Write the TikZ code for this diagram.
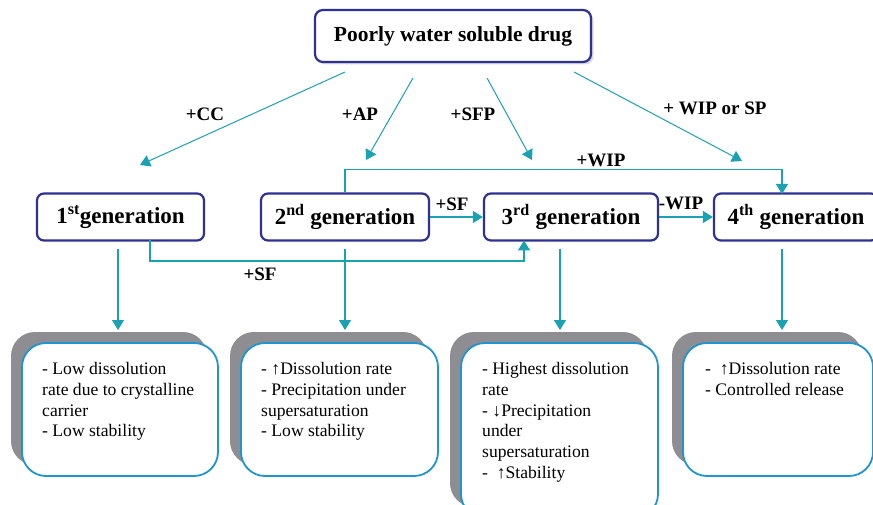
\documentclass[tikz,border=0pt]{standalone}
\usepackage{fontspec}
\setmainfont{Liberation Serif}
\usetikzlibrary{arrows.meta,calc,shadows}
\definecolor{teal1}{HTML}{1BA2B2}
\definecolor{navy1}{HTML}{2E3192}
\definecolor{blue1}{HTML}{1E95D3}
\definecolor{shadow1}{HTML}{8D8D92}
\begin{document}
\begin{tikzpicture}[x=1pt,y=-1pt,
 conn/.style={draw=teal1,line width=1.2pt,-{Triangle[length=10pt,width=12pt]}},
 genbox/.style={draw=navy1,line width=2.2pt,rounded corners=7pt,fill=white,minimum height=47pt,inner sep=0pt,font=\fontsize{23}{23}\selectfont\bfseries},
 lbl/.style={font=\fontsize{19}{19}\selectfont\bfseries,inner sep=0pt},
 infobox/.style={draw=blue1,line width=1.8pt,fill=white,rounded corners=24pt,inner sep=0pt},
 shadowbox/.style={fill=shadow1,rounded corners=24pt,inner sep=0pt},
 info/.style={anchor=north west,align=left,inner sep=0pt,font=\fontsize{17.6}{20.8}\selectfont}]
\useasboundingbox (0,0) rectangle (873,505);
\fill[white] (0,0) rectangle (873,505);
\begin{scope}
\clip (0,0) rectangle (873,505);
% top box
\node[draw=navy1,line width=2.2pt,rounded corners=8pt,fill=white,minimum width=276pt,minimum height=52pt,inner sep=0pt,
  font=\fontsize{21.5}{21.5}\selectfont\bfseries,drop shadow={shadow xshift=2.5pt,shadow yshift=-2.5pt,fill=gray!55}] (top) at (453,36) {Poorly water soluble drug};
% generation boxes
\node[genbox,minimum width=167pt] (g1) at (120.5,217) {1\textsuperscript{st}generation};
\node[genbox,minimum width=168pt] (g2) at (345,217) {2\textsuperscript{nd} generation};
\node[genbox,minimum width=174pt] (g3) at (571,217) {3\textsuperscript{rd} generation};
\node[genbox,minimum width=164pt] (g4) at (796,217) {4\textsuperscript{th} generation};
% top arrows
\coordinate (s1) at (345,72); \coordinate (e1) at (140,165);
\coordinate (s2) at (413,78); \coordinate (e2) at (366,160);
\coordinate (s3) at (487,78); \coordinate (e3) at (532,160);
\coordinate (s4) at (574,72); \coordinate (e4) at (742,161);
\draw[conn,line width=1pt] (s1) -- (e1);
\draw[conn,line width=1pt] (s2) -- (e2);
\draw[conn,line width=1pt] (s3) -- (e3);
\draw[conn,line width=1pt] (s4) -- (e4);
\node[lbl] (lcc) at (205,114) {+CC};
\node[lbl] (lap) at (360,114) {+AP};
\node[lbl] (lsfp) at (473,114) {+SFP};
\node[lbl] (lwsp) at (715,108) {+ WIP or SP};
% connectors between generations
\coordinate (w4) at (782,194);
\draw[conn] (g2.north) -- ++(0,-23) -| (w4);
\node[lbl] (lwip) at (601,160) {+WIP};
\draw[conn] (g2.east) -- (g3.west);
\node[lbl] (lsf) at (452,204) {+SF};
\draw[conn] (g3.east) -- (g4.west);
\node[lbl] (lmw) at (681,203) {-WIP};
\coordinate (sf1) at (150,240.5);
\coordinate (sf3) at (524,240.5);
\draw[conn] (sf1) -- (150,261) -| (sf3);
\node[lbl] (lsf2) at (260,274) {+SF};
% bottom info boxes
\node[shadowbox,minimum width=196pt,minimum height=133pt] (sh1) at (109,398.5) {};
\node[infobox,minimum width=196pt,minimum height=133pt] (b1) at (120,409.5) {};
\node[shadowbox,minimum width=197pt,minimum height=133pt] (sh2) at (328.5,398.5) {};
\node[infobox,minimum width=197pt,minimum height=133pt] (b2) at (339.5,409.5) {};
\node[shadowbox,minimum width=197pt,minimum height=175pt] (sh3) at (548.5,419.5) {};
\node[infobox,minimum width=197pt,minimum height=175pt] (b3) at (559.5,430.5) {};
\node[shadowbox,minimum width=190pt,minimum height=133pt] (sh4) at (767,398.5) {};
\node[infobox,minimum width=190pt,minimum height=133pt] (b4) at (778,409.5) {};
% down arrows
\foreach \i/\x in {1/118,2/345,3/560,4/782}{
  \coordinate (d\i) at (\x,249);
  \coordinate (t\i) at (\x,330);
  \draw[conn] (d\i) -- (t\i);
}
% texts
\node[info] (x1) at (42,362) {- Low dissolution\\rate due to crystalline\\carrier\\- Low stability};
\node[info] (x2) at (261,362) {- ↑Dissolution rate\\- Precipitation under\\supersaturation\\- Low stability};
\node[info] (x3) at (482,362) {- Highest dissolution\\rate\\- ↓Precipitation\\under\\supersaturation\\- \ ↑Stability};
\node[info] (x4) at (705,362) {- \ ↑Dissolution rate\\- Controlled release};
\end{scope}
\end{tikzpicture}
\end{document}
